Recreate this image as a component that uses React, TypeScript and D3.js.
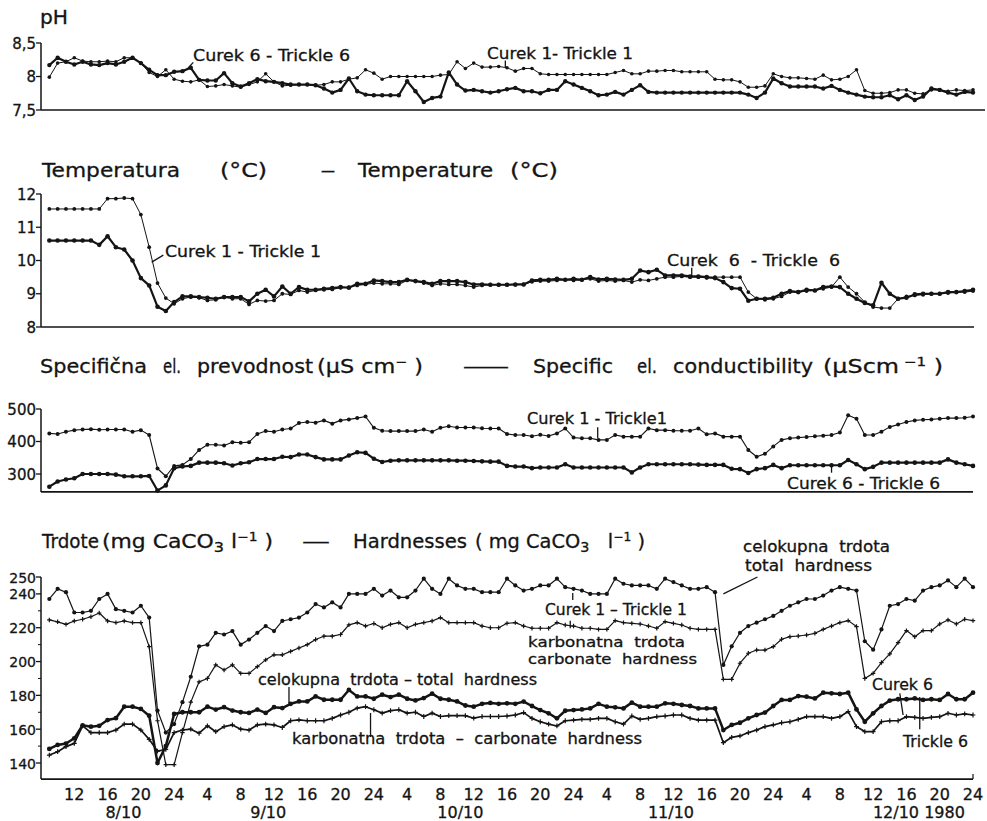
import * as d3 from "d3";

// hourly readings, hours counted from 8/10 1980 08:00
const hours = d3.range(1, 113);

// pH
const phCurek1 = [
  7.99, 8.2, 8.22, 8.28, 8.23, 8.22, 8.22, 8.23, 8.22, 8.28, 8.28, 8.2, 8.06, 8.0, 8.1, 7.96, 7.93, 7.92, 7.95, 7.85,
  7.86, 7.88, 7.86, 7.84, 7.88, 7.92, 8.04, 7.92, 7.86, 7.87, 7.88, 7.88, 7.87, 7.88, 7.92, 7.92, 7.96, 7.98, 8.1, 8.05,
  7.96, 8.0, 8.0, 8.0, 8.0, 8.0, 8.0, 8.02, 8.03, 8.22, 8.12, 8.2, 8.14, 8.14, 8.15, 8.13, 8.08, 8.12, 8.12, 8.04,
  8.03, 8.03, 8.03, 8.03, 8.03, 8.03, 8.03, 8.03, 8.06, 8.09, 8.04, 8.04, 8.08, 8.08, 8.09, 8.09, 8.07, 8.07, 8.07, 8.07,
  7.96, 7.95, 7.95, 7.92, 7.84, 7.84, 7.86, 8.04, 8.0, 7.98, 7.98, 7.97, 7.96, 8.02, 7.95, 7.96, 8.0, 8.1, 7.79, 7.75,
  7.75, 7.76, 7.8, 7.8, 7.75, 7.74, 7.8, 7.8, 7.78, 7.8, 7.79, 7.8,
];
const phCurek6 = [
  8.17, 8.28, 8.22, 8.18, 8.22, 8.18, 8.17, 8.2, 8.18, 8.22, 8.28, 8.2, 8.1, 8.02, 8.02, 8.07, 8.08, 8.13, 7.95, 7.94,
  7.94, 8.05, 7.9, 7.85, 7.9, 7.96, 7.93, 7.92, 7.9, 7.88, 7.88, 7.88, 7.87, 7.82, 7.76, 7.8, 7.97, 7.78, 7.73, 7.72,
  7.72, 7.72, 7.72, 7.93, 7.78, 7.62, 7.68, 7.7, 8.06, 7.88, 7.79, 7.8, 7.78, 7.76, 7.78, 7.81, 7.83, 7.78, 7.78, 7.75,
  7.8, 7.8, 7.93, 7.88, 7.83, 7.78, 7.72, 7.73, 7.77, 7.73, 7.8, 7.87, 7.77, 7.76, 7.76, 7.76, 7.76, 7.76, 7.76, 7.76,
  7.76, 7.76, 7.76, 7.76, 7.73, 7.68, 7.76, 7.97, 7.9, 7.85, 7.85, 7.85, 7.85, 7.82, 7.86, 7.8, 7.76, 7.73, 7.7, 7.69,
  7.69, 7.72, 7.66, 7.72, 7.65, 7.7, 7.82, 7.8, 7.76, 7.73, 7.77, 7.76,
];

// temperature (°C)
const tempCurek1 = [
  11.55, 11.55, 11.55, 11.55, 11.55, 11.55, 11.55, 11.86, 11.86, 11.88, 11.86, 11.38, 10.4, 9.32, 8.87, 8.7, 8.85, 8.9, 8.88, 8.8,
  8.82, 8.9, 8.85, 8.85, 8.68, 8.8, 8.78, 8.8, 9.0, 8.98, 9.1, 9.05, 9.1, 9.12, 9.13, 9.18, 9.2, 9.25, 9.28, 9.32,
  9.3, 9.3, 9.28, 9.4, 9.38, 9.32, 9.25, 9.3, 9.28, 9.28, 9.25, 9.2, 9.25, 9.27, 9.27, 9.27, 9.27, 9.28, 9.36, 9.38,
  9.38, 9.4, 9.42, 9.4, 9.42, 9.45, 9.38, 9.4, 9.38, 9.4, 9.35, 9.42, 9.4, 9.45, 9.5, 9.5, 9.52, 9.5, 9.5, 9.48,
  9.5, 9.5, 9.5, 9.5, 9.05, 8.85, 8.82, 8.85, 8.92, 9.05, 9.05, 9.08, 9.1, 9.15, 9.2, 9.5, 9.2, 9.0, 8.75, 8.6,
  8.57, 8.57, 8.85, 8.92, 8.95, 8.97, 9.0, 9.0, 9.02, 9.05, 9.05, 9.08,
];
const tempCurek6 = [
  10.6, 10.6, 10.6, 10.6, 10.6, 10.6, 10.47, 10.73, 10.4, 10.33, 10.0, 9.47, 9.25, 8.61, 8.48, 8.75, 8.92, 8.92, 8.9, 8.88,
  8.85, 8.9, 8.9, 8.9, 8.77, 9.0, 9.12, 8.92, 9.22, 9.0, 9.2, 9.12, 9.12, 9.15, 9.17, 9.2, 9.18, 9.3, 9.3, 9.4,
  9.38, 9.35, 9.35, 9.42, 9.38, 9.35, 9.3, 9.38, 9.38, 9.38, 9.35, 9.28, 9.28, 9.27, 9.27, 9.27, 9.28, 9.28, 9.4, 9.42,
  9.42, 9.45, 9.42, 9.45, 9.42, 9.5, 9.43, 9.45, 9.43, 9.42, 9.45, 9.7, 9.65, 9.72, 9.55, 9.55, 9.55, 9.52, 9.52, 9.5,
  9.47, 9.35, 9.17, 9.15, 8.79, 8.85, 8.85, 8.88, 9.0, 9.08, 9.05, 9.12, 9.1, 9.2, 9.22, 9.2, 9.0, 8.85, 8.72, 8.65,
  9.33, 9.0, 8.85, 8.88, 8.98, 9.0, 9.0, 9.0, 9.05, 9.05, 9.08, 9.12,
];

// specific conductivity (µS/cm)
const condCurek1 = [
  425, 423, 430, 435, 437, 438, 436, 437, 437, 437, 430, 435, 420, 317, 293, 325, 328, 346, 374, 390,
  390, 388, 398, 396, 398, 423, 432, 430, 437, 440, 457, 460, 458, 465, 455, 465, 468, 472, 477, 442,
  433, 432, 432, 432, 432, 437, 430, 442, 447, 443, 443, 443, 441, 440, 440, 423, 420, 420, 416, 421,
  417, 425, 440, 412, 410, 410, 405, 405, 420, 415, 415, 415, 440, 435, 435, 433, 433, 433, 440, 422,
  425, 415, 415, 415, 374, 353, 362, 385, 405, 410, 412, 414, 416, 418, 420, 428, 481, 470, 420, 420,
  430, 445, 452, 460, 465, 467, 468, 470, 472, 472, 473, 477,
];
const condCurek6 = [
  261, 277, 283, 287, 300, 300, 300, 300, 298, 293, 293, 293, 294, 249, 265, 318, 323, 325, 335, 335,
  335, 333, 326, 333, 336, 346, 346, 346, 353, 352, 360, 360, 352, 345, 345, 345, 357, 367, 365, 347,
  337, 341, 342, 342, 342, 342, 342, 342, 342, 341, 341, 340, 339, 338, 338, 325, 323, 323, 318, 320,
  320, 320, 330, 320, 320, 320, 320, 320, 320, 320, 305, 320, 330, 330, 330, 330, 330, 330, 329, 328,
  328, 328, 316, 315, 303, 315, 318, 328, 318, 327, 327, 327, 327, 327, 327, 327, 343, 330, 315, 322,
  335, 335, 335, 335, 335, 335, 335, 335, 345, 335, 330, 325,
];

// hardness (mg CaCO3/l)
const totalCurek1 = [
  237, 243, 241, 229, 229, 230, 237, 240, 231, 230, 229, 233, 226, 171, 158, 163, 176, 191, 209, 210,
  217, 216, 218, 210, 213, 217, 221, 218, 224, 225, 226, 229, 234, 232, 235, 232, 240, 240, 240, 243,
  239, 242, 238, 238, 242, 249, 243, 240, 249, 245, 243, 243, 241, 241, 241, 249, 245, 242, 243, 245,
  245, 249, 244, 243, 242, 240, 240, 240, 249, 246, 245, 245, 245, 243, 249, 247, 245, 243, 243, 244,
  241, 198, 209, 217, 221, 223, 225, 227, 230, 233, 235, 237, 237, 239, 242, 244, 243, 242, 212, 207,
  219, 233, 234, 237, 236, 242, 244, 245, 248, 244, 249, 244,
];
const carbCurek1 = [
  224.6, 223.5, 222, 224, 225, 226.5, 228.7, 224, 223, 224, 223, 223, 208.8, 165, 139, 139, 158, 176, 188, 190,
  198, 195, 198, 193, 193, 197, 201, 204, 204, 206, 208, 210, 213, 215, 215, 216, 221.7, 223, 221, 222.5,
  220, 222, 223, 220, 222, 223, 224, 226, 223, 223, 223, 223, 221, 220, 220, 222.6, 223, 221, 219.7, 219.7,
  219.7, 223, 221.6, 221, 219.7, 219.7, 219, 219, 224.2, 223, 222.6, 222.2, 221, 219.7, 223.6, 222.6, 221.6, 219.7, 219, 219,
  219, 189.5, 189.5, 199, 204.9, 206.8, 206.8, 208.8, 213.2, 214.7, 215.1, 215.7, 216.7, 219, 221, 223, 224.2, 220.7, 190, 193,
  199.4, 204.5, 211.2, 218.3, 214.7, 218.3, 218.3, 222.2, 224.6, 222.2, 225, 224.2,
];
const totalCurek6 = [
  148.3, 150.7, 151.5, 154.6, 162.3, 161.5, 162, 165.4, 166.5, 173.3, 173.3, 172, 168, 140, 150, 169, 170, 170, 170, 173.3,
  171.6, 173, 171, 170, 169.6, 171.6, 169.6, 173, 172.5, 175, 176.4, 176.4, 179.4, 177.4, 177.4, 177.4, 183.2, 179.4, 179.4, 178,
  180.4, 179, 180.4, 178, 177, 178.4, 181, 178, 177.4, 176.4, 174, 173.3, 175, 175.5, 175, 175.3, 175, 176.3, 173.7, 171.3,
  169.4, 166.4, 170.9, 171.3, 171.7, 172.3, 175, 173.3, 172.9, 172.3, 175.7, 173.3, 173.3, 173.3, 175.3, 175, 174.3, 173.7, 172.3, 172.3,
  172.3, 159.5, 162.5, 163.8, 166.4, 168.4, 169.8, 173.7, 177.3, 177.3, 179.6, 179.2, 178.2, 181.6, 181.2, 180.8, 181.6, 171.7, 164.4, 169.4,
  173.7, 176.9, 177.7, 177.7, 178.2, 177.3, 177.7, 177.3, 180.8, 177.7, 177.7, 181.6,
];
const carbCurek6 = [
  144.7, 146.7, 149.7, 151.6, 162, 158, 158, 158, 159.5, 163, 163, 159.5, 154, 147, 148, 158, 159.5, 160, 157.6, 162,
  158.5, 161.5, 162.5, 160, 159.5, 162.5, 163, 162.5, 161, 165, 165.5, 165, 165, 165, 166.4, 168.4, 170, 172.5, 173.3, 171.5,
  169.5, 171, 171.5, 169.5, 170, 167.5, 169.5, 167.5, 168, 168, 168, 166.5, 167.5, 167.5, 167.5, 167.8, 168.4, 169.8, 166.4, 164.4,
  163, 161.9, 165, 165.4, 165.8, 165.8, 166.4, 166.4, 164.4, 163, 167.8, 165.8, 166.4, 167.4, 167.8, 168.4, 168.4, 166.4, 165.4, 165.4,
  165.4, 152, 155.2, 156, 158, 159.5, 161.5, 162.5, 163.8, 164.4, 165.8, 167.4, 167.4, 167.4, 166.4, 167.4, 170.4, 161.5, 158.6, 158.6,
  164.4, 165, 165, 167.4, 167, 166.4, 167, 167.4, 169.4, 168.4, 169, 168.4,
];

// axis ticks
const phTicks = [8.5, 8, 7.5];
const phTickLabels = ["8,5", "8", "7,5"];
const tempTicks = [12, 11, 10, 9, 8];
const condTicks = [500, 400, 300];
const hardTicks = [250, 240, 220, 200, 180, 160, 140];
const hardMinorTicks = [230, 210, 190, 170, 150];
const tickHours = d3.range(4, 113, 4);
const dateLabels = ["8/10", "9/10", "10/10", "11/10", "12/10 1980"];
const dateLabelHours = [9.9, 27.3, 50.4, 75.7, 105.5];

const INK = "#141414";
const FONT = "'DejaVu Sans', Verdana, sans-serif";

const x = d3.scaleLinear().domain([0, 112]).range([41, 973]);
const yPh = d3.scaleLinear().domain([7.5, 8.5]).range([110, 43]);
const yTemp = d3.scaleLinear().domain([8, 12]).range([327, 194]);
const yCond = d3.scaleLinear().domain([300, 500]).range([474, 409]);
const yHard = d3.scaleLinear().domain([140, 250]).range([763, 577]);

const Series = ({ values, y, sw, r, mark }) => {
  const pts = values.map((v, i) => [x(hours[i]), y(v)]);
  return (
    <g>
      <path d={d3.line()(pts)} fill="none" stroke={INK} strokeWidth={sw} strokeLinejoin="round" />
      {pts.map(([cx, cy], i) =>
        mark === "dot" ? (
          <circle key={i} cx={cx} cy={cy} r={r} fill={INK} />
        ) : (
          <path key={i} d={`M${cx - r},${cy}h${2 * r}M${cx},${cy - r}v${2 * r}`} stroke={INK} strokeWidth={1.2} />
        )
      )}
    </g>
  );
};

const Axis = ({ y, top, bottom, ticks, labels, minor = [], end, size = 15 }) => (
  <g>
    <line x1={41} x2={41} y1={y(top)} y2={y(bottom)} stroke={INK} strokeWidth={1.5} />
    <line x1={41} x2={end} y1={y(bottom)} y2={y(bottom)} stroke={INK} strokeWidth={1.7} />
    {ticks.map((t, i) => (
      <g key={t}>
        <line x1={36} x2={41} y1={y(t)} y2={y(t)} stroke={INK} strokeWidth={1.3} />
        <text x={36} y={y(t) + 5.5} textAnchor="end" fontSize={size} fill={INK} stroke={INK} strokeWidth={0.3}>
          {labels ? labels[i] : String(t)}
        </text>
      </g>
    ))}
    {minor.map((t) => (
      <line key={t} x1={38} x2={41} y1={y(t)} y2={y(t)} stroke={INK} strokeWidth={1} />
    ))}
  </g>
);

const Label = ({ x: lx, y: ly, w, size = 15, text, children }) => (
  <text
    x={lx}
    y={ly}
    fontSize={size}
    fill={INK}
    stroke={INK}
    strokeWidth={0.3}
    textLength={w}
    lengthAdjust="spacingAndGlyphs"
    style={{ whiteSpace: "pre" }}
  >
    {children || text}
  </text>
);

const titles = [
  { x: 40, y: 24, w: 28, text: "pH" },
  { x: 42, y: 177, w: 138, text: "Temperatura" },
  { x: 220, y: 177, w: 47, text: "(°C)" },
  { x: 321, y: 177, w: 14, text: "—" },
  { x: 358, y: 177, w: 135, text: "Temperature" },
  { x: 510, y: 177, w: 48, text: "(°C)" },
  { x: 40, y: 373, w: 107, text: "Specifična" },
  { x: 163, y: 373, w: 18, text: "el." },
  { x: 197, y: 373, w: 116, text: "prevodnost" },
  { x: 462, y: 373, w: 48, text: "—" },
  { x: 533, y: 373, w: 80, text: "Specific" },
  { x: 637, y: 373, w: 20, text: "el." },
  { x: 673, y: 373, w: 140, text: "conductibility" },
  { x: 42, y: 548, w: 57, text: "Trdote" },
  { x: 302, y: 548, w: 28, text: "—" },
  { x: 353, y: 548, w: 114, text: "Hardnesses" },
];

const notes = [
  { x: 193, y: 61, w: 157, text: "Curek 6 - Trickle 6" },
  { x: 487, y: 59, w: 146, text: "Curek 1- Trickle 1" },
  { x: 165, y: 257, w: 156, text: "Curek 1 - Trickle 1" },
  { x: 667, y: 266, w: 173, text: "Curek  6  - Trickle  6" },
  { x: 527, y: 424, w: 140, text: "Curek 1 - Trickle1" },
  { x: 787, y: 489, w: 153, text: "Curek 6 - Trickle 6" },
  { x: 258, y: 685, w: 279, text: "celokupna  trdota – total  hardness" },
  { x: 292, y: 744, w: 350, text: "karbonatna  trdota  –  carbonate  hardness" },
  { x: 545, y: 615, w: 142, text: "Curek 1 – Trickle 1" },
  { x: 528, y: 647, w: 157, size: 14, text: "karbonatna  trdota" },
  { x: 528, y: 664, w: 169, size: 14, text: "carbonate  hardness" },
  { x: 743, y: 552, w: 147, text: "celokupna  trdota" },
  { x: 745, y: 571, w: 127, text: "total  hardness" },
  { x: 872, y: 690, w: 61, text: "Curek 6" },
  { x: 903, y: 747, w: 65, text: "Trickle 6" },
];

const leaders = [
  { y: yPh, a: [18.3, 8.21], b: [17.5, 8.1] },
  { y: yPh, a: [55.8, 8.24], b: [55.8, 8.14] },
  { y: yTemp, a: [14.7, 10.16], b: [13.3, 9.95] },
  { y: yTemp, a: [78.2, 9.78], b: [78.2, 9.5] },
  { y: yCond, a: [66.9, 444], b: [66.9, 411] },
  { y: yCond, a: [95, 328], b: [95, 304] },
  { y: yHard, a: [29.8, 185], b: [29.8, 175.5] },
  { y: yHard, a: [39.6, 169.6], b: [39.6, 155.4] },
  { y: yHard, a: [63.9, 240.6], b: [63.9, 236.4] },
  { y: yHard, a: [63.6, 224.2], b: [63.6, 219.7] },
  { y: yHard, a: [86.1, 250], b: [82, 240] },
  { y: yHard, a: [103.2, 181.2], b: [103.6, 168.4] },
  { y: yHard, a: [105.6, 179], b: [105.6, 160] },
];

const Sub = ({ t }) => (
  <tspan dy={4} fontSize={14}>
    {t}
  </tspan>
);
const Sup = ({ t, back }) => (
  <tspan dy={back} fontSize={12}>
    {t}
  </tspan>
);

export default function App() {
  return (
    <svg
      width={987}
      height={821}
      style={{ position: "absolute", left: 0, top: 0, background: "#fff", fontFamily: FONT }}
    >
      {titles.map((t, i) => (
        <Label key={i} {...t} size={19} />
      ))}
      <Label x={317} y={373} w={106} size={19}>
        (µS cm<Sup t="−" back={-7} />
        <tspan dy={7}> )</tspan>
      </Label>
      <Label x={823} y={373} w={120} size={19}>
        (µScm<Sup t=" −1" back={-7} />
        <tspan dy={7}> )</tspan>
      </Label>
      <Label x={102} y={548} w={171} size={19}>
        (mg CaCO<Sub t="3" />
        <tspan dy={-4}> l</tspan>
        <Sup t="−1" back={-7} />
        <tspan dy={7}> )</tspan>
      </Label>
      <Label x={475} y={548} w={170} size={19}>
        ( mg CaCO<Sub t="3" />
        <tspan dy={-4}>   l</tspan>
        <Sup t="−1" back={-7} />
        <tspan dy={7}> )</tspan>
      </Label>

      <Axis y={yPh} top={8.5} bottom={7.5} ticks={phTicks} labels={phTickLabels} end={985} />
      <Axis y={yTemp} top={12} bottom={8} ticks={tempTicks} end={974} />
      <Axis y={yCond} top={500} bottom={245} ticks={condTicks} end={973} />
      <Axis y={yHard} top={250} bottom={130.5} ticks={hardTicks} minor={hardMinorTicks} end={973} size={14} />
      <line x1={x(112)} x2={x(112)} y1={yHard(130.5)} y2={yHard(130.5) - 5} stroke={INK} strokeWidth={1.2} />

      <Series values={phCurek1} y={yPh} sw={1} r={1.8} mark="dot" />
      <Series values={phCurek6} y={yPh} sw={2.2} r={2.2} mark="dot" />

      <Series values={tempCurek1} y={yTemp} sw={1} r={1.9} mark="dot" />
      <Series values={tempCurek6} y={yTemp} sw={2.2} r={2.3} mark="dot" />

      <Series values={condCurek1} y={yCond} sw={1.1} r={2} mark="dot" />
      <Series values={condCurek6} y={yCond} sw={2.2} r={2.3} mark="dot" />

      <Series values={totalCurek1} y={yHard} sw={1.2} r={2.1} mark="dot" />
      <Series values={carbCurek1} y={yHard} sw={1.2} r={2.2} mark="plus" />
      <Series values={totalCurek6} y={yHard} sw={2.5} r={2.4} mark="dot" />
      <Series values={carbCurek6} y={yHard} sw={1.7} r={2.4} mark="plus" />

      {leaders.map((l, i) => (
        <line
          key={i}
          x1={x(l.a[0])}
          y1={l.y(l.a[1])}
          x2={x(l.b[0])}
          y2={l.y(l.b[1])}
          stroke={INK}
          strokeWidth={1.3}
        />
      ))}

      {notes.map((n, i) => (
        <Label key={i} {...n} />
      ))}

      {tickHours.map((h) => (
        <text key={h} x={x(h)} y={800} textAnchor="middle" fontSize={16} fill={INK} stroke={INK} strokeWidth={0.3}>
          {String((8 + h) % 24 || 24)}
        </text>
      ))}
      {dateLabels.map((d, i) => (
        <text
          key={d}
          x={x(dateLabelHours[i])}
          y={818}
          textAnchor="middle"
          fontSize={16}
          fill={INK}
          stroke={INK}
          strokeWidth={0.3}
        >
          {d}
        </text>
      ))}
    </svg>
  );
}
